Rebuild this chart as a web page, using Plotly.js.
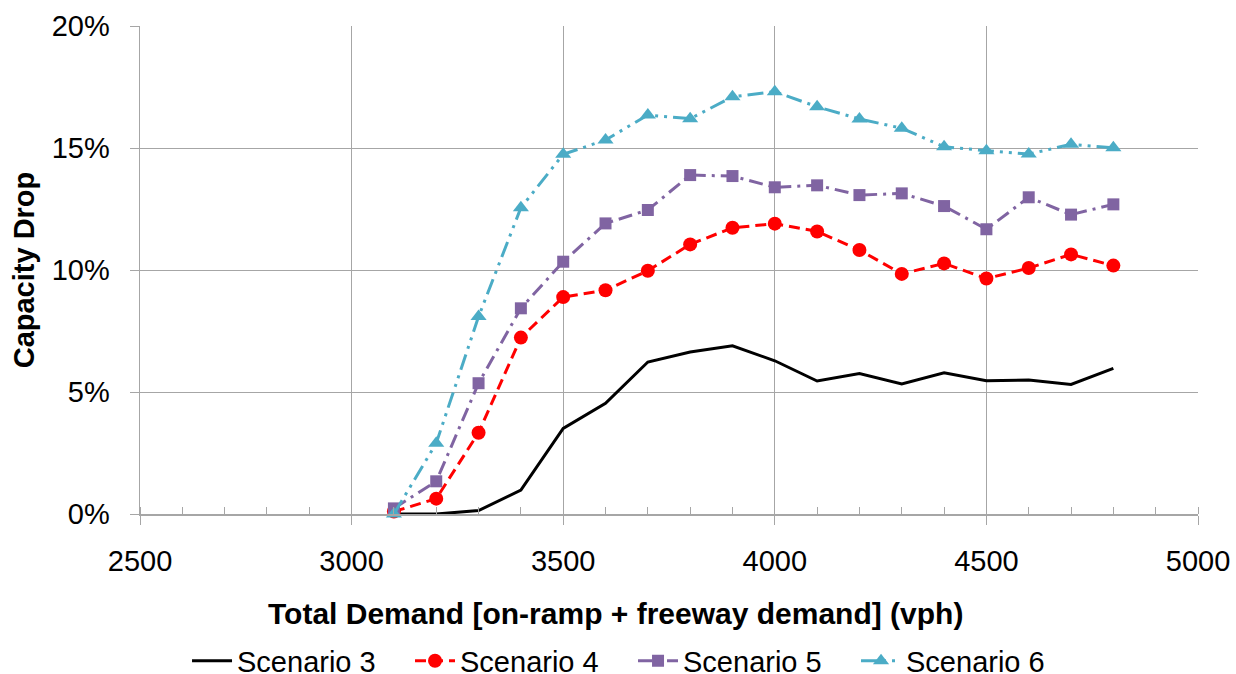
<!DOCTYPE html>
<html>
<head>
<meta charset="utf-8">
<script src="https://cdn.plot.ly/plotly-3.0.1.min.js"></script>
<style>html,body{margin:0;padding:0;background:#fff;}#chart{width:1236px;height:674px;}</style>
</head>
<body>
<div id="chart"></div>
<script>
const demand = [3100, 3200, 3300, 3400, 3500, 3600, 3700, 3800, 3900, 4000, 4100, 4200, 4300, 4400, 4500, 4600, 4700, 4800];
const scenario3 = [0.0, 0.0, 0.14, 0.98, 3.51, 4.54, 6.23, 6.64, 6.89, 6.28, 5.45, 5.76, 5.33, 5.79, 5.46, 5.49, 5.31, 5.97];
const scenario4 = [0.1, 0.63, 3.33, 7.23, 8.89, 9.17, 9.97, 11.05, 11.73, 11.9, 11.58, 10.82, 9.84, 10.27, 9.65, 10.08, 10.64, 10.18];
const scenario5 = [0.23, 1.34, 5.36, 8.43, 10.34, 11.91, 12.46, 13.89, 13.85, 13.39, 13.47, 13.07, 13.14, 12.62, 11.67, 12.98, 12.27, 12.69];
const scenario6 = [0.0, 2.9, 8.09, 12.55, 14.74, 15.33, 16.35, 16.2, 17.1, 17.31, 16.69, 16.19, 15.81, 15.05, 14.89, 14.75, 15.15, 15.01];
const seriesNames = ["Scenario 3", "Scenario 4", "Scenario 5", "Scenario 6"];
const xTicks = [2500, 3000, 3500, 4000, 4500, 5000];
const yTicks = [0, 5, 10, 15, 20];
const xTitle = "Total Demand [on-ramp + freeway demand] (vph)";
const yTitle = "Capacity Drop";

const FONT = "Liberation Sans, Arial, sans-serif";
const traces = [
  {x: demand, y: scenario3, name: seriesNames[0], mode: "lines",
   line: {color: "#000000", width: 3}},
  {x: demand, y: scenario4, name: seriesNames[1], mode: "lines+markers",
   line: {color: "#FF0000", width: 3, dash: "11px,6px"},
   marker: {symbol: "circle", size: 14, color: "#FF0000"}},
  {x: demand, y: scenario5, name: seriesNames[2], mode: "lines+markers",
   line: {color: "#8064A2", width: 3, dash: "14px,6px,3px,6px"},
   marker: {symbol: "square", size: 12, color: "#8064A2"}},
  {x: demand, y: scenario6, name: seriesNames[3], mode: "lines+markers",
   line: {color: "#4BACC6", width: 3, dash: "16px,6px,3px,6px,3px,6px"},
   marker: {symbol: "triangle-up", size: 14, color: "#4BACC6"}}
].map(t => Object.assign(t, {cliponaxis: false}));

const layout = {
  width: 1236, height: 674,
  margin: {l: 140, r: 38, t: 26, b: 160, autoexpand: false},
  paper_bgcolor: "#ffffff", plot_bgcolor: "#ffffff",
  font: {family: FONT, size: 29, color: "#000000"},
  showlegend: true,
  legend: {orientation: "h", x: 0.466, xanchor: "center",
           y: -0.301, yanchor: "middle", font: {family: FONT, size: 29},
           entrywidth: 168, itemwidth: 40, tracegroupgap: 0},
  xaxis: {
    range: [2500, 5000], tickvals: xTicks, ticktext: xTicks.map(String),
    showgrid: true, gridcolor: "#a6a6a6", gridwidth: 1,
    showline: true, linecolor: "#a6a6a6", linewidth: 1.5,
    ticks: "outside", ticklen: 9, tickcolor: "#a6a6a6", tickwidth: 1,
    ticklabelstandoff: 12,
    minor: {dtick: 100, ticks: "inside", ticklen: 7, tickcolor: "#a6a6a6", showgrid: false},
    zeroline: false,
    tickfont: {family: FONT, size: 29}
  },
  yaxis: {
    range: [0, 20], tickvals: yTicks, ticktext: yTicks.map(v => v + "%"),
    showgrid: true, gridcolor: "#a6a6a6", gridwidth: 1,
    showline: true, linecolor: "#a6a6a6", linewidth: 1.5,
    ticks: "outside", ticklen: 9, tickcolor: "#a6a6a6", tickwidth: 1,
    ticklabelstandoff: 14,
    zeroline: false,
    tickfont: {family: FONT, size: 29},
    title: {text: "<b>" + yTitle + "</b>", font: {family: FONT, size: 29}, standoff: 8}
  },
  annotations: [{
    text: "<b>" + xTitle + "</b>", xref: "paper", yref: "paper",
    x: 0.449, y: -0.203, xanchor: "center", yanchor: "middle",
    showarrow: false, font: {family: FONT, size: 30, color: "#000000"}
  }]
};

Plotly.newPlot("chart", traces, layout, {displayModeBar: false, staticPlot: true});
</script>
</body>
</html>
